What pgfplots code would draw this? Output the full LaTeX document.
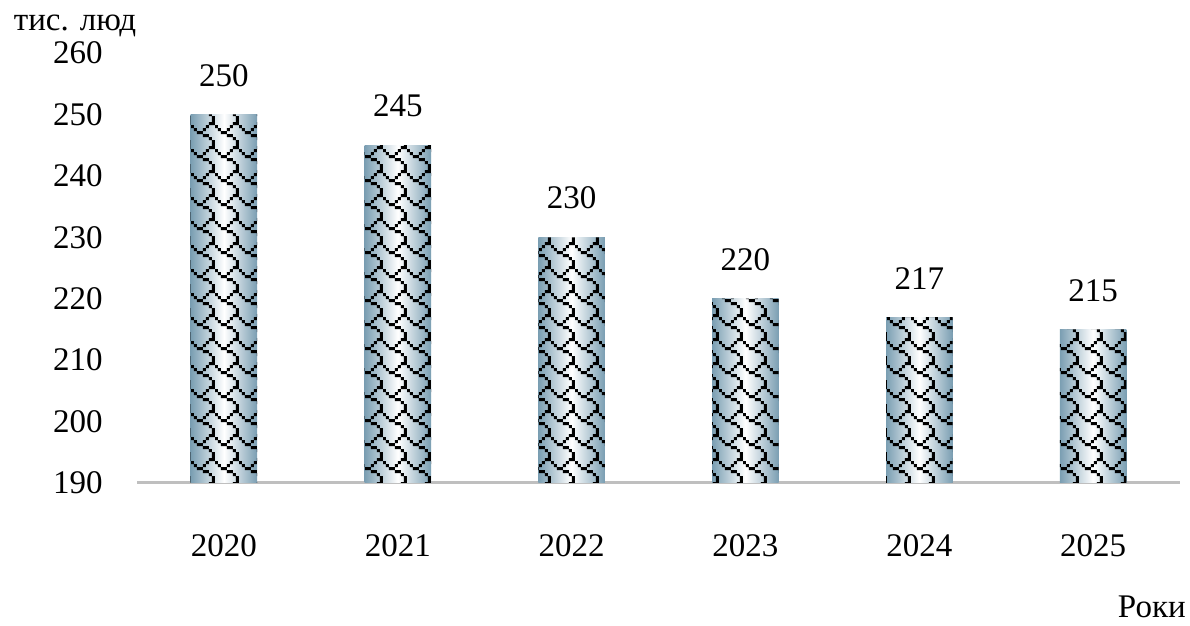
\documentclass[border=0pt]{standalone}
\usepackage{pgfplots}
\pgfplotsset{compat=1.18}
\usepackage{fontspec}
\setmainfont{Liberation Serif}
\usetikzlibrary{patterns}
\definecolor{barEdge}{RGB}{122,158,178}
\definecolor{axGray}{RGB}{191,191,191}
\newcommand\pcell[2]{\pgfpathrectangle{\pgfqpoint{#1*1.5pt}{(7-#2)*1.5pt}}{\pgfqpoint{1.5pt}{1.5pt}}}
\pgfdeclarepatternformonly{shingle}{\pgfqpoint{0pt}{0pt}}{\pgfqpoint{12pt}{12pt}}{\pgfqpoint{12pt}{12pt}}{%
  \pgfpathrectangle{\pgfqpoint{9pt}{10.5pt}}{\pgfqpoint{3pt}{1.5pt}}% row0 cols 6,7
  \pgfpathrectangle{\pgfqpoint{0pt}{9pt}}{\pgfqpoint{1.5pt}{1.5pt}}% row1 col0
  \pgfpathrectangle{\pgfqpoint{7.5pt}{9pt}}{\pgfqpoint{1.5pt}{1.5pt}}% row1 col5
  \pgfpathrectangle{\pgfqpoint{1.5pt}{7.5pt}}{\pgfqpoint{1.5pt}{1.5pt}}% row2 col1
  \pgfpathrectangle{\pgfqpoint{6pt}{7.5pt}}{\pgfqpoint{1.5pt}{1.5pt}}% row2 col4
  \pgfpathrectangle{\pgfqpoint{3pt}{6pt}}{\pgfqpoint{3pt}{1.5pt}}% row3 cols 2,3
  \pgfpathrectangle{\pgfqpoint{6pt}{4.5pt}}{\pgfqpoint{3pt}{1.5pt}}% row4 cols 4,5
  \pgfpathrectangle{\pgfqpoint{9pt}{3pt}}{\pgfqpoint{1.5pt}{1.5pt}}% row5 col6
  \pgfpathrectangle{\pgfqpoint{10.5pt}{0pt}}{\pgfqpoint{1.5pt}{3pt}}% rows6,7 col7
  \pgfusepath{fill}%
}
\pgfplotsset{shadedbar/.style={ybar, bar width=33.25pt, bar shift=0pt, draw=none,
  left color=barEdge, right color=barEdge, middle color=white, forget plot}}
\begin{document}
\begin{tikzpicture}
\begin{axis}[
  scale only axis,
  width=521.5pt, height=215pt,
  xmin=-0.5, xmax=5.5,
  ymin=190, ymax=260,
  xtick={0,...,5},
  xticklabels={2020,2021,2022,2023,2024,2025},
  axis x line*=bottom,
  x axis line style={draw=axGray, line width=1.5pt, -},
  hide y axis,
  tick style={draw=none},
  /pgf/number format/assume math mode=true,
  ticklabel style={font=\fontsize{16.5}{19}\selectfont},
  xticklabel style={yshift=-22pt},
  clip=false,
]
\addplot[shadedbar] coordinates {(0,250)};
\addplot[shadedbar] coordinates {(1,245)};
\addplot[shadedbar] coordinates {(2,230)};
\addplot[shadedbar] coordinates {(3,220)};
\addplot[shadedbar] coordinates {(4,217)};
\addplot[shadedbar] coordinates {(5,215)};
\addplot[ybar, bar width=33.25pt, bar shift=0pt, draw=none,
  pattern=shingle, pattern color=black,
  nodes near coords,
  every node near coord/.append style={font=\fontsize{16.5}{19}\selectfont, yshift=10.5pt, text=black}]
  coordinates {(0,250) (1,245) (2,230) (3,220) (4,217) (5,215)};
\foreach \v in {190,200,...,260} {
  \edef\tmp{\noexpand\node[anchor=east, inner sep=0pt, font=\noexpand\fontsize{16.5}{19}\noexpand\selectfont] at (rel axis cs:-0.0326,{(\v-190)/70}) {\v};}
  \tmp
}
\node[font=\fontsize{16.5}{19}\selectfont] at (rel axis cs:-0.0595,1.062) {тис. люд};
\node[font=\fontsize{16.5}{19}\selectfont] at (rel axis cs:0.973,-0.288) {Роки};
\coordinate (bl) at (rel axis cs:-0.1314,-0.3326);
\coordinate (tr) at (rel axis cs:1.0096,1.1233);
\end{axis}
\pgfresetboundingbox
\useasboundingbox (bl) rectangle (tr);
\end{tikzpicture}
\end{document}
